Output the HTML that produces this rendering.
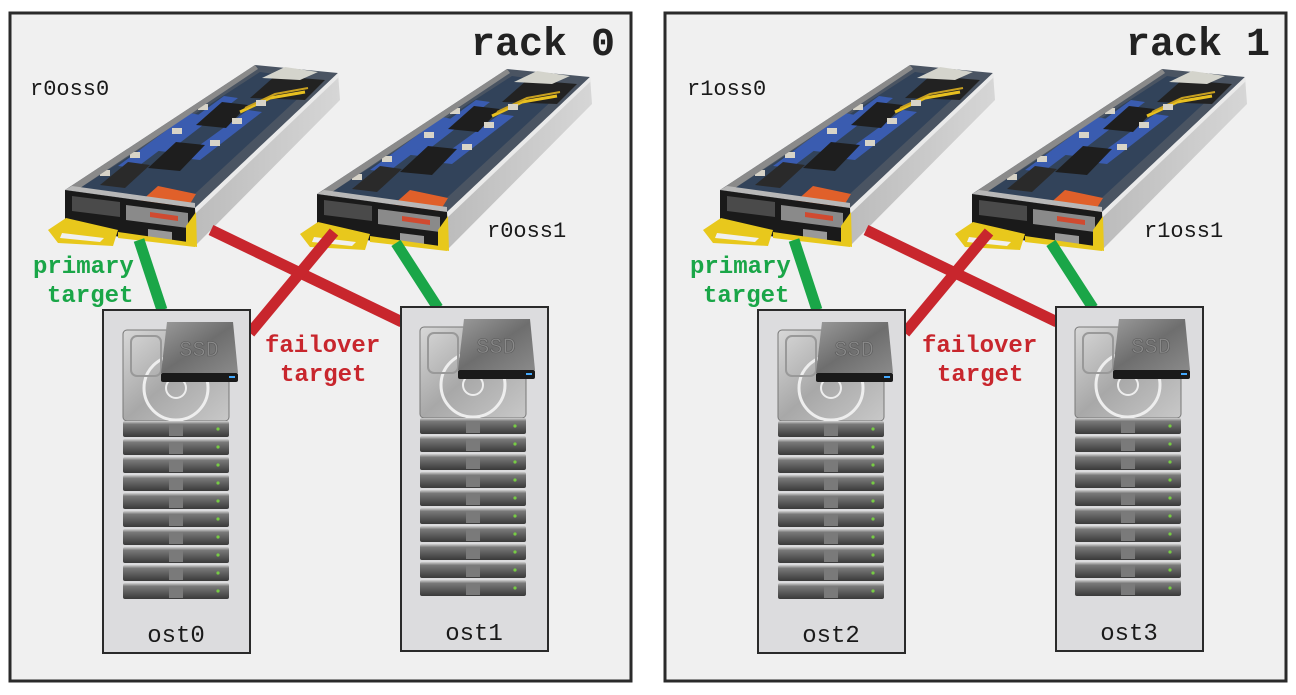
<!DOCTYPE html>
<html><head><meta charset="utf-8"><style>
html,body{margin:0;padding:0;background:#fff;width:1296px;height:695px;overflow:hidden}
svg{display:block}
text{font-family:"Liberation Mono","Courier New",monospace}
</style></head><body>
<svg width="1296" height="695" viewBox="0 0 1296 695" xmlns="http://www.w3.org/2000/svg">
<defs>
<linearGradient id="hdd" x1="0" y1="0" x2="1" y2="1"><stop offset="0" stop-color="#d8d8d8"/><stop offset="0.5" stop-color="#a8a8a8"/><stop offset="1" stop-color="#c8c8c8"/></linearGradient>
<linearGradient id="ssd" x1="0" y1="0" x2="1" y2="1"><stop offset="0" stop-color="#9a9a9a"/><stop offset="0.5" stop-color="#6e6e6e"/><stop offset="1" stop-color="#8a8a8a"/></linearGradient>
<linearGradient id="slat" x1="0" y1="0" x2="0" y2="1"><stop offset="0" stop-color="#d0d0d0"/><stop offset="0.2" stop-color="#7a7a7a"/><stop offset="1" stop-color="#3a3a3a"/></linearGradient>
<linearGradient id="side" x1="0" y1="0" x2="1" y2="0"><stop offset="0" stop-color="#bcbcbc"/><stop offset="1" stop-color="#d6d6d6"/></linearGradient>
<g id="server">
  <!-- top face / internals -->
  <polygon points="65,190 195,208 338,73 255,65" fill="#4a5462"/>
  <polygon points="80,188 185,203 318,80 260,72" fill="#32435a"/>
  <polygon points="150,150 168,152 238,98 224,96" fill="#3a5cb0"/>
  <polygon points="118,166 136,168 205,116 190,113" fill="#3a5cb0"/>
  <polygon points="182,158 200,160 262,112 248,110" fill="#3a5cb0"/>
  <polygon points="148,168 180,171 205,145 176,142" fill="#1e1e1e"/>
  <polygon points="196,125 226,128 248,105 222,102" fill="#1e1e1e"/>
  <polygon points="250,98 305,100 325,80 275,76" fill="#222"/>
  <polygon points="262,78 300,80 318,72 285,67" fill="#d4d4cc"/>
  <polyline points="240,112 270,98 305,92" fill="none" stroke="#e8c020" stroke-width="3"/>
  <polyline points="245,108 275,94 308,88" fill="none" stroke="#c8a020" stroke-width="2"/>
  <g fill="#d8d4c8">
    <rect x="130" y="152" width="10" height="6"/><rect x="172" y="128" width="10" height="6"/>
    <rect x="210" y="140" width="10" height="6"/><rect x="232" y="118" width="10" height="6"/>
    <rect x="100" y="170" width="10" height="6"/><rect x="198" y="104" width="10" height="6"/>
    <rect x="256" y="100" width="10" height="6"/>
  </g>
  <polygon points="100,185 125,188 150,165 128,162" fill="#2a2a2a"/>
  <polygon points="140,202 188,207 196,194 158,186" fill="#e0602a"/>
  <!-- left wall and front rim -->
  <polygon points="65,190 255,65 258,69 80,188" fill="#8a8a8a"/>
  <polygon points="65,190 195,208 195,203 72,186" fill="#b8b8b8"/>
  <!-- side wall -->
  <polygon points="195,208 338,73 340,100 195,246" fill="url(#side)"/>
  <polygon points="195,208 338,73 339,77 196,213" fill="#eaeaea"/>
  <!-- front face -->
  <polygon points="65,190 195,208 195,246 65,230" fill="#1a1a1a"/>
  <polygon points="72,196 120,202 120,217 72,211" fill="#4a4a4a"/>
  <polygon points="126,205 188,213 188,228 126,220" fill="#8a8a8a"/>
  <polygon points="150,212 178,216 178,221 150,217" fill="#d04a30"/>
  <polygon points="148,229 172,232 172,240 148,237" fill="#999"/>
  <!-- yellow trim -->
  <polygon points="186,226 196,212 197,247 186,245" fill="#e8c81c"/>
  <polygon points="48,230 66,218 118,230 113,246 58,243" fill="#e8c81c"/>
  <polygon points="62,233 104,238 100,242 60,238" fill="#f0f0f0"/>
  <polygon points="118,232 195,243 195,247 118,238" fill="#e8c81c"/>
</g>
<g id="disk">
  <rect x="20" y="22" width="106" height="91" rx="4" fill="url(#hdd)" stroke="#777" stroke-width="1"/>
  <circle cx="73" cy="80" r="32" fill="none" stroke="#eee" stroke-width="3"/>
  <circle cx="73" cy="80" r="10" fill="none" stroke="#eee" stroke-width="2"/>
  <rect x="28" y="28" width="30" height="40" rx="6" fill="none" stroke="#999" stroke-width="2"/>
  <g fill="url(#slat)">
    <rect x="20" y="113" width="106" height="16" rx="2"/>
    <rect x="20" y="131" width="106" height="16" rx="2"/>
    <rect x="20" y="149" width="106" height="16" rx="2"/>
    <rect x="20" y="167" width="106" height="16" rx="2"/>
    <rect x="20" y="185" width="106" height="16" rx="2"/>
    <rect x="20" y="203" width="106" height="16" rx="2"/>
    <rect x="20" y="221" width="106" height="16" rx="2"/>
    <rect x="20" y="239" width="106" height="16" rx="2"/>
    <rect x="20" y="257" width="106" height="16" rx="2"/>
    <rect x="20" y="275" width="106" height="16" rx="2"/>
  </g>
  <g fill="#7a7a7a">
    <rect x="66" y="116" width="14" height="12"/><rect x="66" y="134" width="14" height="12"/><rect x="66" y="152" width="14" height="12"/><rect x="66" y="170" width="14" height="12"/><rect x="66" y="188" width="14" height="12"/><rect x="66" y="206" width="14" height="12"/><rect x="66" y="224" width="14" height="12"/><rect x="66" y="242" width="14" height="12"/><rect x="66" y="260" width="14" height="12"/><rect x="66" y="278" width="14" height="12"/>
  </g>
  <g fill="#7c4">
    <circle cx="115" cy="121" r="1.6"/><circle cx="115" cy="139" r="1.6"/><circle cx="115" cy="157" r="1.6"/><circle cx="115" cy="175" r="1.6"/><circle cx="115" cy="193" r="1.6"/><circle cx="115" cy="211" r="1.6"/><circle cx="115" cy="229" r="1.6"/><circle cx="115" cy="247" r="1.6"/><circle cx="115" cy="265" r="1.6"/><circle cx="115" cy="283" r="1.6"/>
  </g>
  <polygon points="64,14 130,14 135,65 58,65" fill="url(#ssd)"/>
  <rect x="58" y="65" width="77" height="9" rx="2" fill="#1a1a1a"/>
  <rect x="126" y="68" width="6" height="2" fill="#4af"/>
  <text x="96" y="48" font-family="Liberation Serif,serif" font-size="22" fill="#8a8a8a" text-anchor="middle" stroke="#5a5a5a" stroke-width="0.6">SSD</text>
</g>
<g id="rack">
  <rect x="10" y="13" width="621" height="668" fill="#f0f0f0" stroke="#2a2a2a" stroke-width="3"/>
  <use href="#server"/>
  <use href="#server" transform="translate(252,4)"/>
  <g stroke-width="11" stroke-linecap="butt">
    <line x1="211" y1="230" x2="402" y2="322" stroke="#c8262d"/>
    <line x1="334" y1="232" x2="250" y2="333" stroke="#c8262d"/>
    <line x1="139" y1="240" x2="162" y2="310" stroke="#1aa648"/>
    <line x1="396" y1="243" x2="438" y2="308" stroke="#1aa648"/>
  </g>
  <rect x="103" y="310" width="147" height="343" fill="#dcdcde" stroke="#2a2a2a" stroke-width="2"/>
  <use href="#disk" transform="translate(103,308)"/>
  <rect x="401" y="307" width="147" height="344" fill="#dcdcde" stroke="#2a2a2a" stroke-width="2"/>
  <use href="#disk" transform="translate(400,305)"/>
</g>
</defs>

<rect width="1296" height="695" fill="#fff"/>
<use href="#rack"/>
<use href="#rack" transform="translate(655,0)"/>

<g font-weight="bold">
  <text x="615" y="55" font-size="40" text-anchor="end" fill="#222">rack 0</text>
  <text x="1270" y="55" font-size="40" text-anchor="end" fill="#222">rack 1</text>
  <g font-size="24" fill="#1aa648">
    <text x="33" y="273">primary</text><text x="47" y="302">target</text>
    <text x="690" y="273">primary</text><text x="703" y="302">target</text>
  </g>
  <g font-size="24" fill="#c8262d">
    <text x="265" y="352">failover</text><text x="280" y="381">target</text>
    <text x="922" y="352">failover</text><text x="937" y="381">target</text>
  </g>
</g>
<g font-size="22" fill="#1a1a1a">
  <text x="30" y="95">r0oss0</text>
  <text x="487" y="237">r0oss1</text>
  <text x="687" y="95">r1oss0</text>
  <text x="1144" y="237">r1oss1</text>
  <text x="176" y="642" text-anchor="middle" font-size="24">ost0</text>
  <text x="474" y="640" text-anchor="middle" font-size="24">ost1</text>
  <text x="831" y="642" text-anchor="middle" font-size="24">ost2</text>
  <text x="1129" y="640" text-anchor="middle" font-size="24">ost3</text>
</g>
</svg>
</body></html>
